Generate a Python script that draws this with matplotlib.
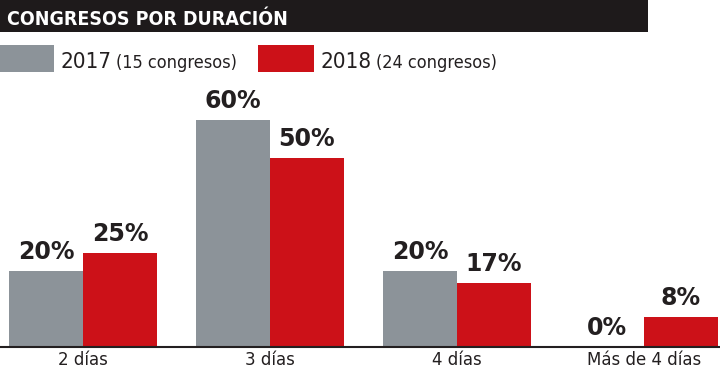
import numpy as np
import matplotlib
matplotlib.use("Agg")
import matplotlib.pyplot as plt
from matplotlib.patches import Rectangle

# data
categories = ['2 días', '3 días', '4 días', 'Más de 4 días']
v2017 = [20, 60, 20, 0]
v2018 = [25, 50, 17, 8]
series_names = ['2017', '2018']
series_notes = ['(15 congresos)', '(24 congresos)']
title = 'CONGRESOS POR DURACIÓN'

GRAY = '#8c9399'
RED = '#cc1118'
INK = '#231f20'

W, H = 720, 370
fig = plt.figure(figsize=(W / 100, H / 100), dpi=100)

# title bar
fig.patches.append(Rectangle((0, 1 - 32 / H), 648 / W, 32 / H, transform=fig.transFigure,
                             facecolor='#1e1a1b', edgecolor='none'))
fig.text(7 / W, 1 - 25 / H, title, color='white', fontsize=14, fontweight='bold',
         fontstretch='condensed', va='baseline', ha='left')

# legend
for (x0, x1), c, name, note in zip([(0, 54), (258, 314)], [GRAY, RED], series_names, series_notes):
    fig.patches.append(Rectangle((x0 / W, 1 - 72 / H), (x1 - x0) / W, 27 / H,
                                 transform=fig.transFigure, facecolor=c, edgecolor='none'))
    t = fig.text((x1 + 6) / W, 1 - 68 / H, name, color=INK, fontsize=16,
                 fontstretch='condensed', va='baseline', ha='left')
    fig.canvas.draw()
    bb = t.get_window_extent()
    fig.text((bb.x1 + 5) / W, 1 - 68 / H, note, color=INK, fontsize=13,
             fontstretch='condensed', va='baseline', ha='left')

# bars
ax = fig.add_axes([0, 23 / H, 1, 267 / H])
x = np.arange(len(categories))
bw = 74 / 187
b1 = ax.bar(x - bw / 2, v2017, bw, color=GRAY)
b2 = ax.bar(x + bw / 2, v2018, bw, color=RED)
for bars in (b1, b2):
    ax.bar_label(bars, fmt='{:.0f}%', padding=5, fontsize=17, fontweight='bold', color=INK)

ax.set_xlim(-83 / 187, (W - 83) / 187)
ax.set_ylim(0, 267 / 3.78)
ax.axhline(0, color=INK, lw=1.5, clip_on=False)
ax.set_xticks(x)
ax.set_xticklabels(categories, fontsize=12, color=INK)
ax.tick_params(axis='x', length=0, pad=3)
ax.set_yticks([])
for s in ax.spines.values():
    s.set_visible(False)
ax.patch.set_alpha(0)

fig.savefig('out.png', dpi=100)
